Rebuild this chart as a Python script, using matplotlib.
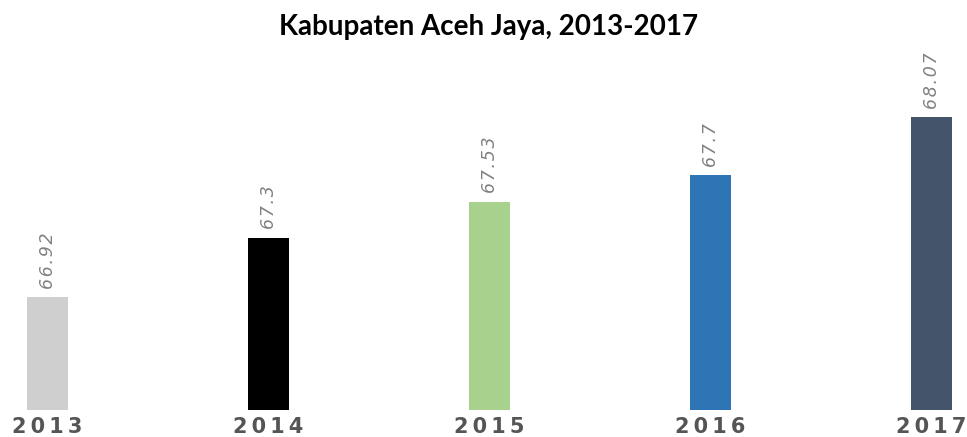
import matplotlib.pyplot as plt

# data
years = ["2013", "2014", "2015", "2016", "2017"]
values = [66.92, 67.3, 67.53, 67.7, 68.07]
colors = ["#d0cfd0", "#000000", "#a9d18e", "#2e75b6", "#44546a"]

fig = plt.figure(figsize=(9.67, 4.37), dpi=100)
ax = fig.add_axes([0, 1 - 410 / 437, 1, 350 / 437])

x = list(range(len(years)))
bars = ax.bar(x, values, width=0.186, color=colors)

ax.set_xlim(-0.215, 4.16)
ax.set_ylim(66.198, 68.434)

for xi, v in zip(x, values):
    ax.annotate("\u200a".join(str(v)), (xi, v), xytext=(0, 6), textcoords="offset points",
                rotation=90, ha="center", va="bottom", fontsize=12.5,
                style="italic", color="#808080", family="DejaVu Sans")

ax.set_xticks(x)
ax.set_xticklabels(["\u2009".join(y) for y in years], fontsize=15,
                   fontweight="bold", color="#555555", family="DejaVu Sans")
ax.tick_params(axis="x", length=0, pad=5)
ax.set_yticks([])
for s in ax.spines.values():
    s.set_visible(False)

fig.text(0.505, 1 - 27 / 437, "Kabupaten Aceh Jaya, 2013-2017", ha="center",
         va="center", fontsize=20, fontweight="bold", family="Lato")

fig.savefig("out.png", dpi=100)
